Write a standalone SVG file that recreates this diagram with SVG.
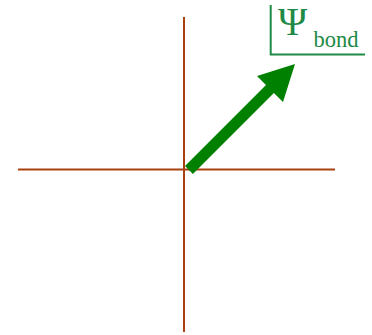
<svg xmlns="http://www.w3.org/2000/svg" width="372" height="335" viewBox="0 0 372 335">
<style>
.axis{stroke:#a8400f;stroke-width:2;fill:none}
.lbl{fill:#1e8a45;font-family:"Liberation Serif",serif}
</style>
<rect width="372" height="335" fill="#fff"/>
<g id="axes">
<line class="axis" x1="18" y1="169.5" x2="335" y2="169.5"/>
<line class="axis" x1="184" y1="17" x2="184" y2="332"/>
</g>
<g id="connectors">
<polygon fill="#008000" points="185,166 266,85 257,76 295,64 283,102 273.9,92.9 192.9,173.9"/>
</g>
<g id="label">
<polyline points="270.7,5 270.7,54.5 365,54.5" fill="none" stroke="#1e8a45" stroke-width="2"/>
<text class="lbl" x="278" y="35.3" font-size="39.5">Ψ</text>
<text class="lbl" x="313.5" y="47" font-size="22.5">bond</text>
</g>
</svg>
